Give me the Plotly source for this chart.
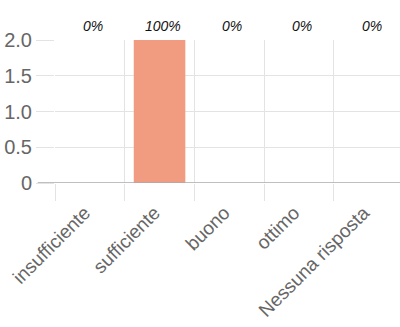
import plotly.graph_objects as go

categories = ["insufficiente", "sufficiente", "buono", "ottimo", "Nessuna risposta"]
values = [0, 2, 0, 0, 0]
percent_labels = ["0%", "100%", "0%", "0%", "0%"]
y_ticks = [0, 0.5, 1.0, 1.5, 2.0]
y_tick_text = ["0", "0.5", "1.0", "1.5", "2.0"]

FONT = "Liberation Sans, Arial, sans-serif"
GRID = "#e3e3e3"

fig = go.Figure(go.Bar(
    x=categories, y=values,
    marker=dict(color="#F19C80", line=dict(width=0)),
    hoverinfo="skip",
))

for c, t in zip(categories, percent_labels):
    fig.add_annotation(
        x=c, y=1.0, xref="x", yref="paper", yanchor="bottom",
        text=f"<i>{t}</i>", showarrow=False, yshift=4, xshift=3,
        font=dict(family=FONT, size=14, color="#111111"),
    )

fig.update_layout(
    width=400, height=327,
    margin=dict(l=55, r=0, t=40, b=144),
    paper_bgcolor="white", plot_bgcolor="white",
    showlegend=False, bargap=0.26,
    xaxis=dict(
        type="category", range=[-0.5, 4.45],
        tickson="boundaries", showgrid=True, gridcolor=GRID, gridwidth=1,
        ticks="outside", ticklen=17, tickcolor=GRID, tickwidth=1,
        tickangle=-45, ticklabelstandoff=14, ticklabelshift=-5,
        tickfont=dict(family=FONT, size=19, color="#666666"),
        showline=False, zeroline=False, automargin=False,
    ),
    yaxis=dict(
        range=[0, 2.0], tickvals=y_ticks, ticktext=y_tick_text,
        showgrid=True, gridcolor=GRID, gridwidth=1,
        ticks="outside", ticklen=18, tickcolor=GRID, tickwidth=1,
        tickfont=dict(family=FONT, size=20, color="#666666"),
        zeroline=False, showline=False, automargin=False,
    ),
)

fig.add_shape(type="line", xref="paper", yref="y", x0=-0.05, x1=1, y0=0, y1=0,
              line=dict(color="#aaaaaa", width=1.5), layer="above")

fig.write_html("out.html", config={"displayModeBar": False},
               post_script="document.body.style.margin='0';")
